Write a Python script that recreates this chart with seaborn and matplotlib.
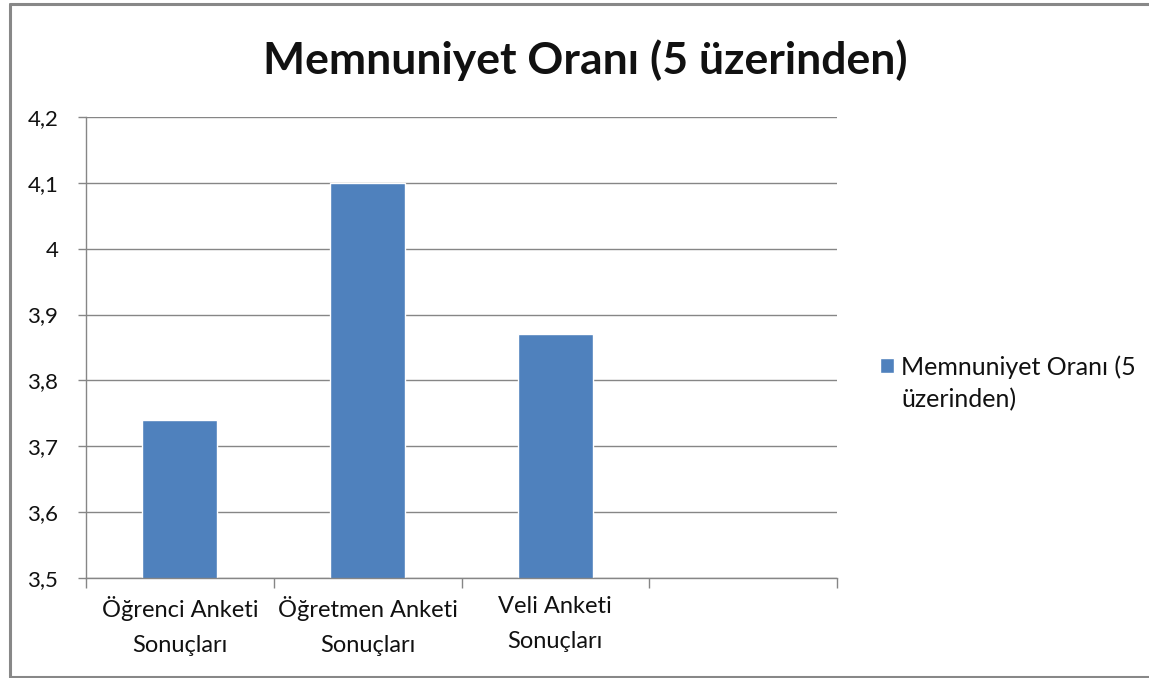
import numpy as np
import pandas as pd
import seaborn as sns
import matplotlib.pyplot as plt
from matplotlib.ticker import FixedLocator, FuncFormatter
from matplotlib.lines import Line2D

sns.set_theme(style="white")
plt.rcParams['font.family'] = ['Lato', 'DejaVu Sans']

# veriler
kategoriler = ['Öğrenci Anketi\nSonuçları', 'Öğretmen Anketi\nSonuçları', 'Veli Anketi\nSonuçları']
degerler = [3.74, 4.10, 3.87]
seri_adi = 'Memnuniyet Oranı (5 üzerinden)'
y_ticks = [3.5, 3.6, 3.7, 3.8, 3.9, 4.0, 4.1, 4.2]

df = pd.DataFrame({'kategori': kategoriler, 'deger': degerler})
sira = kategoriler + ['']  # boş dördüncü kategori (Excel tarzı)

fig = plt.figure(figsize=(11.49, 6.78), dpi=100)
fig.patch.set_edgecolor('white')
fig.patch.set_linewidth(0)
ax = fig.add_axes([86 / 1149, 1 - 578 / 678, (837 - 86) / 1149, (578 - 117) / 678])

sns.barplot(data=df, x='kategori', y='deger', order=sira, color='#4F81BD',
            width=0.4, saturation=1, ax=ax)

ax.set_ylim(3.5, 4.2)
ax.set_xlim(-0.5, 3.5)
ax.set_yticks(y_ticks)
ax.yaxis.set_major_formatter(FuncFormatter(lambda v, p: f'{v:g}'.replace('.', ',')))
ax.grid(axis='y', color='#868686', linewidth=1)
ax.set_axisbelow(True)

# kategori sınırlarında tik çizgileri
ax.xaxis.set_major_locator(FixedLocator([-0.5, 0.5, 1.5, 2.5, 3.5]))
ax.xaxis.set_major_formatter(FuncFormatter(lambda v, p: ''))
ax.xaxis.set_minor_locator(FixedLocator([0, 1, 2]))
ax.set_xticklabels(kategoriler, minor=True)
ax.tick_params(axis='x', which='major', direction='out', length=7, width=1, color='#868686', bottom=True)
ax.tick_params(axis='x', which='minor', length=0, pad=13, labelsize=17, colors='#111111')
ax.tick_params(axis='y', direction='out', length=6, width=1, color='#868686', left=True,
               labelsize=16, labelcolor='#111111', pad=14)
for lbl in ax.get_xticklabels(minor=True):
    lbl.set_linespacing(1.8)

ax.set_xlabel('')
ax.set_ylabel('')
for s in ['top', 'right']:
    ax.spines[s].set_visible(False)
for s in ['left', 'bottom']:
    ax.spines[s].set_color('#868686')
    ax.spines[s].set_linewidth(1)

# lejant: kare ilk satırla hizalı, ikinci satır ayrı metin
h = ax.containers[0].patches[0]
leg = fig.legend([h], ['Memnuniyet Oranı (5'], loc='center left',
                 bbox_to_anchor=(880 / 1149, 1 - 367 / 678), frameon=False,
                 fontsize=18, handlelength=0.55, handleheight=0.55, handletextpad=0.3,
                 labelcolor='#111111', borderaxespad=0, borderpad=0)
fig.canvas.draw()
t = leg.get_texts()[0]
bb = t.get_window_extent().transformed(fig.transFigure.inverted())
fig.text(bb.x0, 1 - 400 / 678, 'üzerinden)', ha='left', va='center',
         fontsize=18, color='#111111')

fig.text(585 / 1149, 1 - 60 / 678, seri_adi, ha='center', va='center',
         fontsize=32, fontweight='bold', color='#111111')

# dış çerçeve (sol, üst, alt)
x0, y_top, y_bot = 9.5 / 1149, 1 - 4 / 678, 1.2 / 678
for xs, ys in [([x0, x0], [y_bot, y_top]), ([x0, 1.0], [y_top, y_top]), ([x0, 1.0], [y_bot, y_bot])]:
    fig.add_artist(Line2D(xs, ys, transform=fig.transFigure, color='#888888', linewidth=2.2))

fig.savefig('out.png', dpi=100, edgecolor='white')
